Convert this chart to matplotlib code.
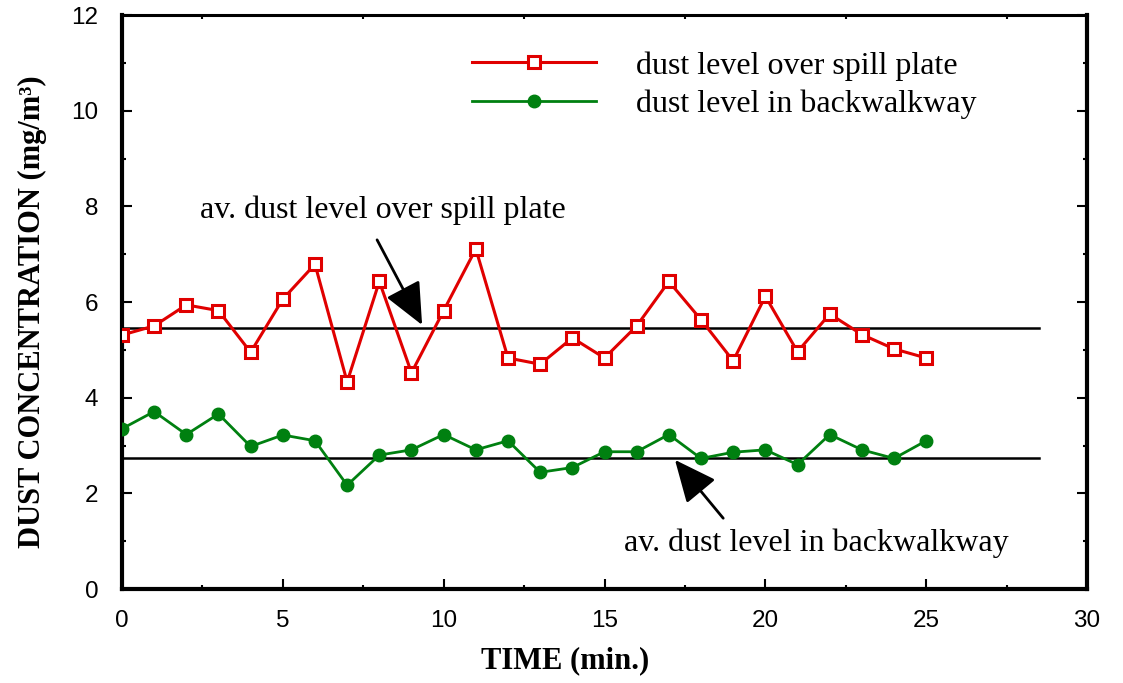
import matplotlib
matplotlib.use("Agg")
import matplotlib.pyplot as plt
from matplotlib.ticker import MultipleLocator

# time in minutes
time_min = list(range(26))

# dust level over spill plate (mg/m3)
spill_plate = [5.31, 5.50, 5.94, 5.82, 4.95, 6.06, 6.79, 4.33, 6.43, 4.52,
               5.82, 7.11, 4.83, 4.70, 5.25, 4.83, 5.50, 6.43, 5.63, 4.77,
               6.12, 4.96, 5.75, 5.32, 5.02, 4.83]

# dust level in backwalkway (mg/m3)
backwalkway = [3.35, 3.71, 3.23, 3.66, 2.98, 3.22, 3.10, 2.17, 2.80, 2.91,
               3.23, 2.91, 3.10, 2.44, 2.54, 2.87, 2.87, 3.23, 2.73, 2.86,
               2.91, 2.60, 3.23, 2.91, 2.73, 3.10]

avg_spill = 5.45
avg_back = 2.73
avg_span = [0, 28.5]

red = "#e00000"
green = "#008010"

fig = plt.figure(figsize=(11.23, 6.83), dpi=100)
ax = fig.add_axes([0.1086, 0.1376, 0.8594, 0.8404])

ax.plot(time_min, spill_plate, color=red, lw=2.2, marker="s", ms=9,
        mfc="white", mec=red, mew=2.2, label="dust level over spill plate",
        zorder=3)
ax.plot(time_min, backwalkway, color=green, lw=2.0, marker="o", ms=9,
        mfc=green, mec=green, label="dust level in backwalkway", zorder=3)

ax.plot(avg_span, [avg_spill, avg_spill], color="black", lw=1.8, zorder=2)
ax.plot(avg_span, [avg_back, avg_back], color="black", lw=1.8, zorder=2)

serif = "Liberation Serif"
arrow = dict(arrowstyle="-|>,head_length=1.0,head_width=0.45",
             color="black", lw=2.0, mutation_scale=26, shrinkA=0, shrinkB=0)

# annotations with arrows
ax.annotate("", xy=(9.33, 5.52), xytext=(7.93, 7.30), arrowprops=arrow)
ax.text(2.42, 7.92, "av. dust level over spill plate", fontsize=23,
        family=serif, ha="left", va="center")

ax.annotate("", xy=(17.19, 2.70), xytext=(18.69, 1.48), arrowprops=arrow)
ax.text(15.6, 0.96, "av. dust level in backwalkway", fontsize=23,
        family=serif, ha="left", va="center")

ax.set_xlim(0, 30)
ax.set_ylim(0, 12)
ax.xaxis.set_major_locator(MultipleLocator(5))
ax.xaxis.set_minor_locator(MultipleLocator(2.5))
ax.yaxis.set_major_locator(MultipleLocator(2))
ax.yaxis.set_minor_locator(MultipleLocator(1))

ax.tick_params(which="both", direction="in", right=True, top=True, width=1.5)
ax.tick_params(which="major", length=7, labelsize=17.5, pad=15)
ax.tick_params(which="minor", length=3)
ax.tick_params(axis="y", which="major", pad=17)
ax.tick_params(axis="x", which="major", top=False)
for lab in ax.get_xticklabels() + ax.get_yticklabels():
    lab.set_family("Liberation Sans")

for side in ["left", "bottom", "right"]:
    ax.spines[side].set_linewidth(3)
ax.spines["top"].set_linewidth(2.2)

ax.set_xlabel("TIME (min.)", fontsize=22, fontweight="bold", family=serif)
ax.xaxis.set_label_coords(0.459, -0.1)
ax.set_ylabel("DUST CONCENTRATION (mg/m³)", fontsize=22, fontweight="bold",
              family=serif)
ax.yaxis.set_label_coords(-0.078, 0.483)

leg = ax.legend(loc="upper left", bbox_to_anchor=(0.346, 0.965), frameon=False,
                prop={"family": serif, "size": 23}, handlelength=3.9,
                handletextpad=1.25, labelspacing=0.27, borderpad=0)

fig.savefig("out.png", dpi=100)
